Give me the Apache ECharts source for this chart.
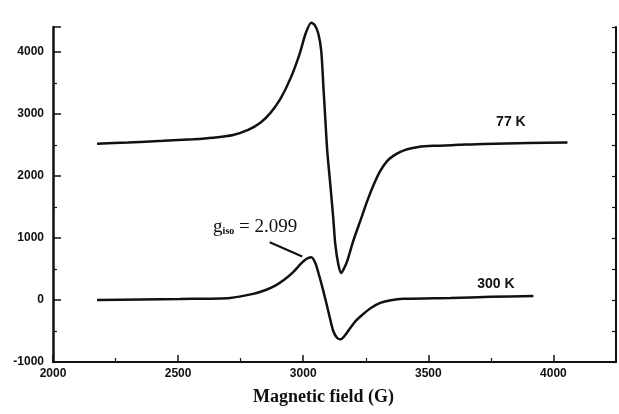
<!DOCTYPE html>
<html>
<head>
<meta charset="utf-8">
<script src="https://cdn.jsdelivr.net/npm/echarts@6/dist/echarts.min.js"></script>
<style>
  html, body { margin: 0; padding: 0; background: #fff; }
  #epr { width: 619px; height: 414px; }
</style>
</head>
<body>
<div id="epr"></div>
<script>
// spectrum at 77 K (field in G, intensity)
const field77 = [2176, 2300, 2440, 2560, 2640, 2720, 2780, 2830, 2870, 2910, 2950, 2985, 3010, 3032, 3046, 3060, 3072, 3080, 3088, 3096, 3108, 3120, 3128, 3140, 3152, 3164, 3176, 3200, 3228, 3256, 3284, 3308, 3336, 3360, 3388, 3416, 3460, 3520, 3620, 3720, 3900, 4056];
const int77 = [2520, 2540, 2565, 2590, 2615, 2660, 2740, 2860, 3020, 3250, 3580, 3960, 4300, 4470, 4430, 4300, 4016, 3484, 2935, 2403, 1871, 1323, 903, 581, 435, 516, 629, 952, 1274, 1597, 1880, 2081, 2242, 2323, 2387, 2430, 2465, 2484, 2500, 2516, 2530, 2540];

// spectrum at 300 K
const field300 = [2176, 2350, 2508, 2708, 2800, 2850, 2890, 2925, 2960, 2990, 3012, 3032, 3048, 3064, 3080, 3100, 3120, 3136, 3150, 3168, 3188, 3212, 3240, 3272, 3308, 3350, 3400, 3588, 3750, 3920];
const int300 = [0, 8, 16, 33, 98, 160, 235, 330, 450, 580, 660, 690, 600, 390, 150, -177, -500, -613, -634, -565, -452, -330, -226, -125, -48, -5, 18, 33, 50, 65];

// axis ticks
const xTicks = [2000, 2500, 3000, 3500, 4000];
const yTicks = [-1000, 0, 1000, 2000, 3000, 4000];

// labels
const label77 = { text: '77 K', at: [3830, 2870] };
const label300 = { text: '300 K', at: [3770, 260] };
const gIso = { value: '2.099', at: [2808, 1180], lead: [[2866, 930], [2996, 700]] };

const pairs = (xs, ys) => xs.map((x, i) => [x, ys[i]]);

const chart = echarts.init(document.getElementById('epr'));

const tickFont = { color: '#111', fontFamily: 'Liberation Sans', fontWeight: 'bold', fontSize: 12 };
const tagStyle = { color: '#111', fontFamily: 'Liberation Sans', fontWeight: 'bold', fontSize: 14 };

const option = {
  animation: false,
  backgroundColor: '#fff',
  grid: { left: 53, right: 3, top: 27, bottom: 52 },
  xAxis: {
    type: 'value',
    min: 2000, max: 4250, interval: 500,
    name: 'Magnetic field (G)',
    nameLocation: 'middle',
    nameGap: 26,
    nameTextStyle: {
      fontFamily: 'Liberation Serif', fontWeight: 'bold', fontSize: 18, color: '#111',
      padding: [0, 22, 0, 0]
    },
    axisLine: { onZero: false, lineStyle: { color: '#111', width: 2 } },
    axisTick: { inside: true, length: 7, lineStyle: { color: '#111', width: 1.5 } },
    minorTick: { show: true, splitNumber: 2, length: 4, lineStyle: { color: '#111', width: 1.2 } },
    axisLabel: Object.assign({ margin: 6, showMaxLabel: false,
      formatter: v => xTicks.includes(v) ? String(v) : '' }, tickFont),
    splitLine: { show: false }
  },
  yAxis: [{
    type: 'value',
    min: -1000, max: 4400, interval: 1000,
    axisLine: { show: true, onZero: false, lineStyle: { color: '#111', width: 2.5 } },
    axisTick: { inside: true, length: 8, lineStyle: { color: '#111', width: 1.5 } },
    minorTick: { show: true, splitNumber: 2, length: 4, lineStyle: { color: '#111', width: 1.2 } },
    axisLabel: Object.assign({ margin: 9, showMaxLabel: false,
      formatter: v => yTicks.includes(v) ? String(v) : '' }, tickFont),
    splitLine: { show: false }
  }, {
    type: 'value',
    position: 'right',
    min: -1000, max: 4400, interval: 500,
    axisLine: { show: true, lineStyle: { color: '#111', width: 2 } },
    axisTick: { show: true, inside: true, length: 4, lineStyle: { color: '#111', width: 1.2 } },
    axisLabel: { show: false },
    splitLine: { show: false }
  }],
  series: [{
    name: '77 K',
    type: 'line',
    data: pairs(field77, int77),
    smooth: 0.25,
    clip: false,
    showSymbol: false,
    lineStyle: { color: '#111', width: 2.5 },
    markPoint: {
      symbolSize: 0,
      data: [{ coord: label77.at, label: Object.assign({ show: true, formatter: label77.text }, tagStyle) }]
    }
  }, {
    name: '300 K',
    type: 'line',
    data: pairs(field300, int300),
    smooth: 0.25,
    clip: false,
    showSymbol: false,
    lineStyle: { color: '#111', width: 2.5 },
    markPoint: {
      symbolSize: 0,
      data: [
        { coord: label300.at, label: Object.assign({ show: true, formatter: label300.text }, tagStyle) },
        {
          coord: gIso.at,
          label: {
            show: true,
            formatter: '{g|g}{s|iso}{t| = ' + gIso.value + '}',
            rich: {
              g: { fontFamily: 'Liberation Serif', fontSize: 19, color: '#111' },
              s: { fontFamily: 'Liberation Serif', fontWeight: 'bold', fontSize: 10, color: '#111', padding: [9, 0, 0, 0] },
              t: { fontFamily: 'Liberation Serif', fontSize: 19, color: '#111' }
            }
          }
        }
      ]
    },
    markLine: {
      silent: true,
      symbol: 'none',
      label: { show: false },
      lineStyle: { color: '#111', width: 2, type: 'solid' },
      data: [[{ coord: gIso.lead[0] }, { coord: gIso.lead[1] }]]
    }
  }]
};

chart.setOption(option);
window.onresize = function () { chart.resize(); };
</script>
</body>
</html>
